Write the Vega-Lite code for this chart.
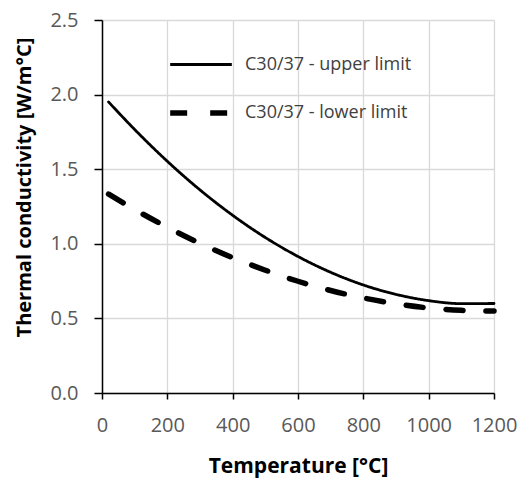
{
  "$schema": "https://vega.github.io/schema/vega-lite/v6.json",
  "autosize": "none",
  "width": 392,
  "height": 373,
  "padding": {"left": 102, "top": 20, "right": 37, "bottom": 88},
  "background": "white",
  "config": {
    "font": "Open Sans",
    "view": {"stroke": null},
    "axis": {
      "labelFont": "Open Sans",
      "labelFontSize": 20,
      "labelColor": "#595959",
      "titleFont": "Open Sans",
      "titleFontSize": 20,
      "titleFontWeight": "bold",
      "titleColor": "#000000",
      "gridColor": "#d9d9d9",
      "gridWidth": 1.3,
      "domainColor": "#000000",
      "domainWidth": 1.5,
      "tickColor": "#000000",
      "tickWidth": 1.5
    }
  },
  "data": {
    "values": [
      {"T": 20, "k": 1.951, "s": "C30/37 - upper limit"},
      {"T": 100, "k": 1.766, "s": "C30/37 - upper limit"},
      {"T": 200, "k": 1.553, "s": "C30/37 - upper limit"},
      {"T": 300, "k": 1.361, "s": "C30/37 - upper limit"},
      {"T": 400, "k": 1.191, "s": "C30/37 - upper limit"},
      {"T": 500, "k": 1.042, "s": "C30/37 - upper limit"},
      {"T": 600, "k": 0.915, "s": "C30/37 - upper limit"},
      {"T": 700, "k": 0.809, "s": "C30/37 - upper limit"},
      {"T": 800, "k": 0.724, "s": "C30/37 - upper limit"},
      {"T": 900, "k": 0.661, "s": "C30/37 - upper limit"},
      {"T": 1000, "k": 0.619, "s": "C30/37 - upper limit"},
      {"T": 1100, "k": 0.599, "s": "C30/37 - upper limit"},
      {"T": 1200, "k": 0.600, "s": "C30/37 - upper limit"},
      {"T": 20, "k": 1.333, "s": "C30/37 - lower limit"},
      {"T": 100, "k": 1.230, "s": "C30/37 - lower limit"},
      {"T": 200, "k": 1.111, "s": "C30/37 - lower limit"},
      {"T": 300, "k": 1.003, "s": "C30/37 - lower limit"},
      {"T": 400, "k": 0.907, "s": "C30/37 - lower limit"},
      {"T": 500, "k": 0.823, "s": "C30/37 - lower limit"},
      {"T": 600, "k": 0.749, "s": "C30/37 - lower limit"},
      {"T": 700, "k": 0.687, "s": "C30/37 - lower limit"},
      {"T": 800, "k": 0.637, "s": "C30/37 - lower limit"},
      {"T": 900, "k": 0.598, "s": "C30/37 - lower limit"},
      {"T": 1000, "k": 0.570, "s": "C30/37 - lower limit"},
      {"T": 1100, "k": 0.554, "s": "C30/37 - lower limit"},
      {"T": 1200, "k": 0.549, "s": "C30/37 - lower limit"}
    ]
  },
  "mark": {"type": "line", "color": "#000000", "strokeCap": "round", "interpolate": "monotone"},
  "encoding": {
    "x": {
      "field": "T", "type": "quantitative",
      "scale": {"domain": [0, 1200], "nice": false},
      "axis": {"values": [0, 200, 400, 600, 800, 1000, 1200], "format": "d", "title": "Temperature [°C]", "titleFontSize": 21, "tickSize": 6, "labelPadding": 16, "titlePadding": 20, "labelFlush": false}
    },
    "y": {
      "field": "k", "type": "quantitative",
      "scale": {"domain": [0, 2.5], "nice": false},
      "axis": {"values": [0, 0.5, 1, 1.5, 2, 2.5], "format": ".1f", "title": "Thermal conductivity [W/m°C]", "titleX": -78, "titleY": 167, "titleBaseline": "middle", "tickSize": 8, "labelPadding": 16, "labelFlush": false}
    },
    "strokeDash": {
      "field": "s", "type": "nominal",
      "scale": {"domain": ["C30/37 - upper limit", "C30/37 - lower limit"], "range": [[1, 0], [17, 23]]},
      "legend": {
        "title": null, "orient": "none", "legendX": 65, "legendY": 12,
        "symbolType": "stroke", "symbolSize": 3800, "symbolStrokeColor": "#000000",
        "labelFontSize": 18, "labelColor": "#404040", "labelOffset": 10, "labelLimit": 400,
        "rowPadding": 5
      }
    },
    "strokeWidth": {
      "field": "s", "type": "nominal",
      "scale": {"domain": ["C30/37 - upper limit", "C30/37 - lower limit"], "range": [2.8, 5.5]},
      "legend": null
    }
  }
}
